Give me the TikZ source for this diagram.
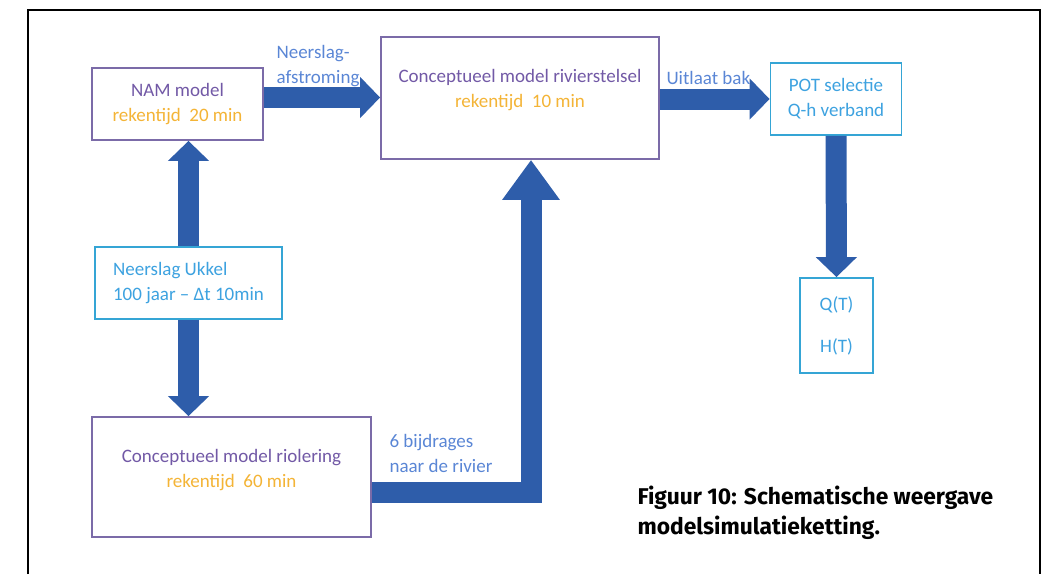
\documentclass[tikz,border=0pt]{standalone}
\usepackage{fontspec}
\setmainfont{Carlito}
\newfontfamily\capfont{Fira Sans}
\usetikzlibrary{arrows.meta}
\definecolor{boxpurple}{HTML}{7B6BA8}
\definecolor{txtpurple}{HTML}{7259A6}
\definecolor{rekenorange}{HTML}{F4B436}
\definecolor{boxcyan}{HTML}{35A5D5}
\definecolor{txtcyan}{HTML}{3DA2E0}
\definecolor{lblblue}{HTML}{5A86D5}
\definecolor{arrowblue}{HTML}{2E5DAA}
\begin{document}
\begin{tikzpicture}[x=1pt, y=-1pt,
  modelbox/.style={draw=boxpurple, line width=1.8pt, fill=white, inner sep=0pt},
  databox/.style={draw=boxcyan, line width=1.8pt, fill=white, inner sep=0pt, text=txtcyan},
  lbl/.style={text=lblblue, align=left, anchor=west},
  bigarrow/.style={arrowblue, line width=21pt, -{Triangle[width=40pt,length=20pt]}},
  font=\fontsize{19}{25}\selectfont]
\useasboundingbox (0,0) rectangle (1044,574);
\draw[line width=1.6pt] (28,574) -- (28,10) -- (1040,10) -- (1040,574);
\node[modelbox, minimum width=171, minimum height=72, align=center] (nam) at (177.5,104) {\textcolor{txtpurple}{NAM model}\\\textcolor{rekenorange}{rekentijd\ \ 20 min}};
\node[modelbox, minimum width=278, minimum height=122] (river) at (520,98) {};
\node[align=center] (rivertxt) at (520,90) {\textcolor{txtpurple}{Conceptueel model rivierstelsel}\\\textcolor{rekenorange}{rekentijd\ \ 10 min}};
\node[databox, minimum width=131, minimum height=72, align=center] (pot) at (836,99) {POT selectie\\Q-h verband};
\node[databox, minimum width=73, minimum height=95, align=center] (qt) at (836.5,325.5) {Q(T)\\[17pt]H(T)};
\node[databox, minimum width=187, minimum height=72, align=left] (ukkel) at (188.5,283) {Neerslag Ukkel\\100 jaar – Δt 10min};
\node[modelbox, minimum width=279, minimum height=120] (riool) at (231.5,477) {};
\node[align=center] (riooltxt) at (231.5,470) {\textcolor{txtpurple}{Conceptueel model riolering}\\\textcolor{rekenorange}{rekentijd\ \ 60 min}};
\node[lbl] (afstr) at (273,66.5) {Neerslag-\\afstroming};
\node[lbl] (uitlaat) at (663,78) {Uitlaat bak};
\node[lbl] (bijdr) at (386,453.5) {6 bijdrages\\naar de rivier};
\node[anchor=west, align=left, font=\capfont\bfseries\fontsize{22.8}{30}\selectfont] (cap) at (634,513) {Figuur 10: Schematische weergave\\modelsimulatieketting.};
\draw[bigarrow] ([yshift=6.5pt]nam.east) -- ([yshift=6.5pt]nam.east -| river.west);
\draw[bigarrow] (river.east |- pot.west) -- (pot.west);
\draw[bigarrow] (ukkel.north) -- (ukkel.north |- nam.south);
\draw[bigarrow] (ukkel.south) -- (ukkel.south |- riool.north);
\draw[bigarrow] (pot.south) -- (qt.north);
\draw[bigarrow, line width=21pt, -{Triangle[width=55pt,length=40pt]}] ([yshift=-15pt]riool.east) -| ([xshift=11pt]river.south);
\end{tikzpicture}
\end{document}
